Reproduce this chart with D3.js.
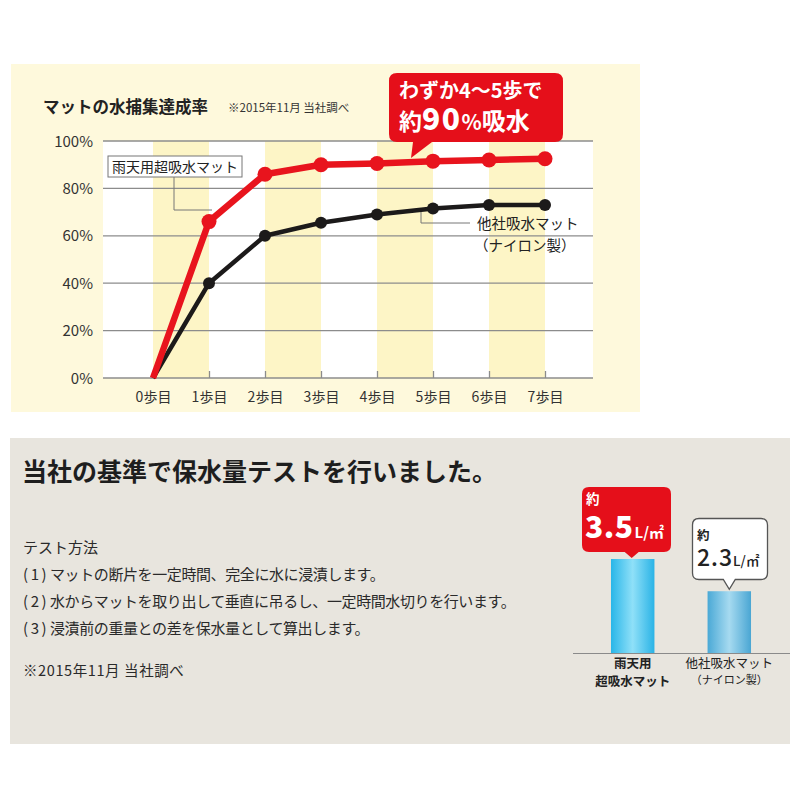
<!DOCTYPE html>
<html><head><meta charset="utf-8">
<script src="https://cdn.jsdelivr.net/npm/d3@7"></script>
<style>body{margin:0;background:#fff}svg{display:block;font-family:"Noto Sans CJK JP","Noto Sans",sans-serif}</style>
</head><body>
<script>
const steps = ["0歩目","1歩目","2歩目","3歩目","4歩目","5歩目","6歩目","7歩目"];
const superMat = [0, 66, 86, 90, 90.5, 91.5, 92, 92.5];
const otherMat = [0, 40, 60, 65.5, 69, 71.5, 73, 73];
const yTicks = [0, 20, 40, 60, 80, 100];
const barNames = ["雨天用超吸水マット", "他社吸水マット"];
const barValues = [3.5, 2.3];

const svg = d3.select("body").append("svg").attr("width", 800).attr("height", 800);

// ---------- top panel ----------
svg.append("rect").attr("x", 11).attr("y", 64).attr("width", 629).attr("height", 348).attr("fill", "#fef9dc");

const x = d3.scalePoint().domain(steps).range([153, 545]);
const y = d3.scaleLinear().domain([0, 100]).range([378, 141]);
const plotL = 103, plotR = 593;

svg.append("rect").attr("x", plotL).attr("y", y(100)).attr("width", plotR - plotL).attr("height", y(0) - y(100)).attr("fill", "#ffffff");
const stripes = d3.range(steps.length - 1).filter(i => i % 2 === 0);
svg.append("g").selectAll("rect").data(stripes).join("rect")
  .attr("x", i => x(steps[i])).attr("width", i => x(steps[i + 1]) - x(steps[i]))
  .attr("y", y(100)).attr("height", y(0) - y(100)).attr("fill", "#fdf5c6");

svg.append("g").selectAll("line").data(yTicks).join("line")
  .attr("x1", plotL).attr("x2", plotR).attr("y1", d => y(d)).attr("y2", d => y(d))
  .attr("stroke", "#8c8c8c").attr("stroke-width", 1.3);

svg.append("g").selectAll("text").data(yTicks).join("text")
  .attr("x", 93).attr("y", d => y(d) + 5.5).attr("text-anchor", "end")
  .attr("font-size", 15).attr("fill", "#333").text(d => d + "%");

const xAxis = svg.append("g").attr("transform", `translate(0,${y(0)})`)
  .call(d3.axisBottom(x).tickSize(-7).tickPadding(14));
xAxis.select(".domain").remove();
xAxis.selectAll(".tick line").attr("stroke", "#8c8c8c").attr("stroke-width", 1.3);
xAxis.selectAll(".tick text").attr("font-size", 14).attr("fill", "#333")
  .attr("font-family", '"Noto Sans CJK JP",sans-serif');

svg.append("polyline").attr("points", "174,177 174,210 212,210").attr("fill", "none").attr("stroke", "#777").attr("stroke-width", 1);
svg.append("polyline").attr("points", "421,209 421,223 470,223").attr("fill", "none").attr("stroke", "#777").attr("stroke-width", 1);

const line = d3.line().x((d, i) => x(steps[i])).y(d => y(d));
svg.append("path").datum(otherMat).attr("d", line).attr("fill", "none").attr("stroke", "#1c1a1a").attr("stroke-width", 4.5).attr("stroke-linejoin", "round");
svg.append("g").selectAll("circle").data(otherMat.slice(1)).join("circle")
  .attr("cx", (d, i) => x(steps[i + 1])).attr("cy", d => y(d)).attr("r", 6).attr("fill", "#1c1a1a");
svg.append("path").datum(superMat).attr("d", line).attr("fill", "none").attr("stroke", "#e8141d").attr("stroke-width", 6.5).attr("stroke-linejoin", "round");
svg.append("g").selectAll("circle").data(superMat.slice(1)).join("circle")
  .attr("cx", (d, i) => x(steps[i + 1])).attr("cy", d => y(d)).attr("r", 7.5).attr("fill", "#e8141d");

svg.append("text").attr("x", 43).attr("y", 113).attr("font-size", 16.5).attr("font-weight", 700).attr("fill", "#222").text("マットの水捕集達成率");
svg.append("text").attr("x", 228).attr("y", 112).attr("font-size", 11.5).attr("fill", "#333").text("※2015年11月 当社調べ");

svg.append("rect").attr("x", 108).attr("y", 156).attr("width", 134).attr("height", 21).attr("fill", "#fff").attr("stroke", "#777").attr("stroke-width", 1);
svg.append("text").attr("x", 112).attr("y", 172).attr("font-size", 14).attr("fill", "#222").text("雨天用超吸水マット");
svg.append("text").attr("x", 477).attr("y", 229).attr("font-size", 14.5).attr("fill", "#222").text("他社吸水マット");
svg.append("text").attr("x", 474).attr("y", 251).attr("font-size", 14.5).attr("fill", "#222").text("（ナイロン製）");

svg.append("path").attr("d", "M397,73 H555 Q563,73 563,81 V134 Q563,142 555,142 H432 L411,158 L413,142 H397 Q389,142 389,134 V81 Q389,73 397,73 Z").attr("fill", "#e50f1a");
svg.append("text").attr("x", 399).attr("y", 98).attr("font-size", 20).attr("font-weight", 700).attr("fill", "#fff").text("わずか4〜5歩で");
const c2 = svg.append("text").attr("x", 399).attr("y", 130).attr("fill", "#fff").attr("font-weight", 700);
c2.append("tspan").attr("font-size", 23).text("約");
c2.append("tspan").attr("font-size", 30).attr("font-weight", 900).attr("letter-spacing", 1.5).text("90");
c2.append("tspan").attr("font-size", 21).text("%");
c2.append("tspan").attr("font-size", 24).text("吸水");

// ---------- bottom panel ----------
svg.append("rect").attr("x", 10).attr("y", 438).attr("width", 780).attr("height", 306).attr("fill", "#e8e5de");
svg.append("text").attr("x", 22).attr("y", 481).attr("font-size", 25).attr("font-weight", 700).attr("fill", "#1e1e1e").text("当社の基準で保水量テストを行いました。");
svg.append("text").attr("x", 23).attr("y", 553).attr("font-size", 15).attr("fill", "#2a2a2a").text("テスト方法");
const methodNo = ["(1)", "(2)", "(3)"];
const methods = ["マットの断片を一定時間、完全に水に浸漬します。",
  "水からマットを取り出して垂直に吊るし、一定時間水切りを行います。",
  "浸漬前の重量との差を保水量として算出します。"];
const lineY = [580, 607, 634];
const mg = svg.append("g").selectAll("text").data(methods).join("text")
  .attr("x", 23).attr("y", (d, i) => lineY[i]).attr("font-size", 15).attr("fill", "#2a2a2a");
mg.append("tspan").attr("letter-spacing", 2.6).text((d, i) => methodNo[i]);
mg.append("tspan").attr("x", 50).attr("letter-spacing", -0.4).text(d => d);
svg.append("text").attr("x", 23).attr("y", 676).attr("font-size", 14.5).attr("letter-spacing", 0.6).attr("fill", "#2a2a2a").text("※2015年11月 当社調べ");

// bars
const defs = svg.append("defs");
const g1 = defs.append("linearGradient").attr("id", "bg1");
[["0%", "#29b6e8"], ["50%", "#8fe0f8"], ["100%", "#2ab3e6"]].forEach(s => g1.append("stop").attr("offset", s[0]).attr("stop-color", s[1]));
const g2 = defs.append("linearGradient").attr("id", "bg2");
[["0%", "#4aa9d6"], ["50%", "#a6daf0"], ["100%", "#4aa6d3"]].forEach(s => g2.append("stop").attr("offset", s[0]).attr("stop-color", s[1]));

const bx = d3.scaleBand().domain(barNames).range([582, 780]).paddingInner(0.55).paddingOuter(0.3);
const by = d3.scaleLinear().domain([0, 3.5]).range([653, 559]);
svg.append("g").selectAll("rect").data(barValues).join("rect")
  .attr("x", (d, i) => bx(barNames[i])).attr("width", bx.bandwidth())
  .attr("y", d => by(d)).attr("height", d => by(0) - by(d))
  .attr("fill", (d, i) => `url(#bg${i + 1})`);
svg.append("line").attr("x1", 573).attr("x2", 790).attr("y1", 653.5).attr("y2", 653.5).attr("stroke", "#8a8a8a").attr("stroke-width", 1);

const cx1 = bx(barNames[0]) + bx.bandwidth() / 2, cx2 = bx(barNames[1]) + bx.bandwidth() / 2;
const t1 = by(barValues[0]), t2 = by(barValues[1]);
svg.append("path").attr("d", `M589,487 H664 Q671,487 671,494 V545 Q671,552 664,552 H${cx1 + 6} L${cx1 - 1},${t1 - 1} L${cx1 - 8},552 H589 Q582,552 582,545 V494 Q582,487 589,487 Z`).attr("fill", "#e50f1a");
svg.append("text").attr("x", 586).attr("y", 504).attr("font-size", 13.5).attr("font-weight", 700).attr("fill", "#fff").text("約");
const v1 = svg.append("text").attr("x", 585).attr("y", 538).attr("fill", "#fff").attr("font-weight", 700);
v1.append("tspan").attr("font-size", 30).attr("font-weight", 900).attr("letter-spacing", 0.5).text(barValues[0].toFixed(1));
v1.append("tspan").attr("font-size", 15).attr("dx", 1).text("L/㎡");

svg.append("path").attr("d", `M699,518.5 H761 Q767.5,518.5 767.5,525 V573 Q767.5,579.5 761,579.5 H${cx2 + 6} L${cx2},${t2 - 2} L${cx2 - 6},579.5 H699 Q692.5,579.5 692.5,573 V525 Q692.5,518.5 699,518.5 Z`).attr("fill", "#fff").attr("stroke", "#555").attr("stroke-width", 1.3);
svg.append("text").attr("x", 697).attr("y", 540).attr("font-size", 12.5).attr("font-weight", 700).attr("fill", "#222").text("約");
const v2 = svg.append("text").attr("x", 697).attr("y", 566).attr("fill", "#222").attr("font-weight", 500);
v2.append("tspan").attr("font-size", 23).attr("letter-spacing", 1).text(barValues[1].toFixed(1));
v2.append("tspan").attr("font-size", 13.5).text("L/㎡");

svg.append("text").attr("x", cx1).attr("y", 668).attr("text-anchor", "middle").attr("font-size", 12.5).attr("font-weight", 700).attr("fill", "#222").text("雨天用");
svg.append("text").attr("x", cx1).attr("y", 686).attr("text-anchor", "middle").attr("font-size", 12.5).attr("font-weight", 700).attr("fill", "#222").text("超吸水マット");
svg.append("text").attr("x", cx2).attr("y", 668).attr("text-anchor", "middle").attr("font-size", 12.5).attr("fill", "#222").text("他社吸水マット");
svg.append("text").attr("x", cx2).attr("y", 684).attr("text-anchor", "middle").attr("font-size", 11).attr("fill", "#222").text("（ナイロン製）");
</script>
</body></html>
